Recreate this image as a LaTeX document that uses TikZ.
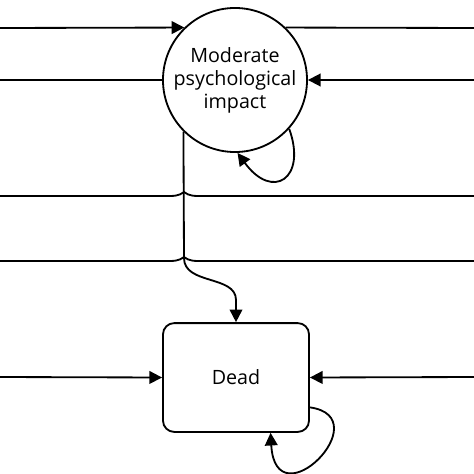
\documentclass[tikz,border=0pt]{standalone}
\usepackage{fontspec}
\setmainfont{Open Sans}
\usetikzlibrary{arrows.meta}

\begin{document}
\begin{tikzpicture}[x=0.025cm, y=-0.025cm, line width=1.3pt,
    arr/.style={-{Triangle[length=9pt,width=9pt]}},
    state/.style={draw, fill=white, align=center, font=\fontsize{14}{16.4}\selectfont}]
    \useasboundingbox (0,0) rectangle (474,474);

    % Define coordinates for the free ends of the lines
    \coordinate (L1) at (0,28);
    \coordinate (R1) at (474,28);
    \coordinate (L2) at (0,80);
    \coordinate (R2) at (474,80);
    \coordinate (L3) at (0,196);
    \coordinate (R3) at (474,196);
    \coordinate (L4) at (0,261);
    \coordinate (R4) at (474,261);
    \coordinate (L5) at (0,377);
    \coordinate (R5) at (474,377);
    \coordinate (J) at (184,258);

    % The two states
    \node[state, circle, minimum size=3.6cm, inner sep=0pt] (mod) at (235,80)
        {Moderate\\psychological\\impact};
    \node[state, rounded corners=8pt, minimum width=3.65cm, minimum height=2.72cm] (dead) at (236,377.5)
        {Dead};

    % Lines into and out of the circle
    \draw[arr] (L1) -- (mod.134);
    \draw (mod.46) -- (R1);
    \draw (L2) -- (mod.west);
    \draw[arr] (R2) -- (mod.east);

    % Lines passing by, with hops over the vertical line
    \draw (L3) -- (170,196) .. controls (180,196) and (182,193) .. (184,192)
        .. controls (186,193) and (188,196) .. (198,196) -- (R3);
    \draw (L4) -- (170,261) .. controls (180,261) and (182,258) .. (184,257)
        .. controls (186,258) and (188,261) .. (198,261) -- (R4);

    % From the circle down to Dead
    \draw[arr] (mod.225) -- (J) .. controls (184,285) and (236,275) .. (236,300) -- (dead.north);

    % Lines into Dead
    \draw[arr] (L5) -- (dead.west);
    \draw[arr] (R5) -- (dead.east);

    % Self loops
    \draw[arr] (mod.-42) .. controls +(18,50) and +(35,48) .. (mod.-88);
    \draw[arr] (dead.-22) .. controls +(70,10) and +(5,90) .. (dead.-58);
\end{tikzpicture}
\end{document}
